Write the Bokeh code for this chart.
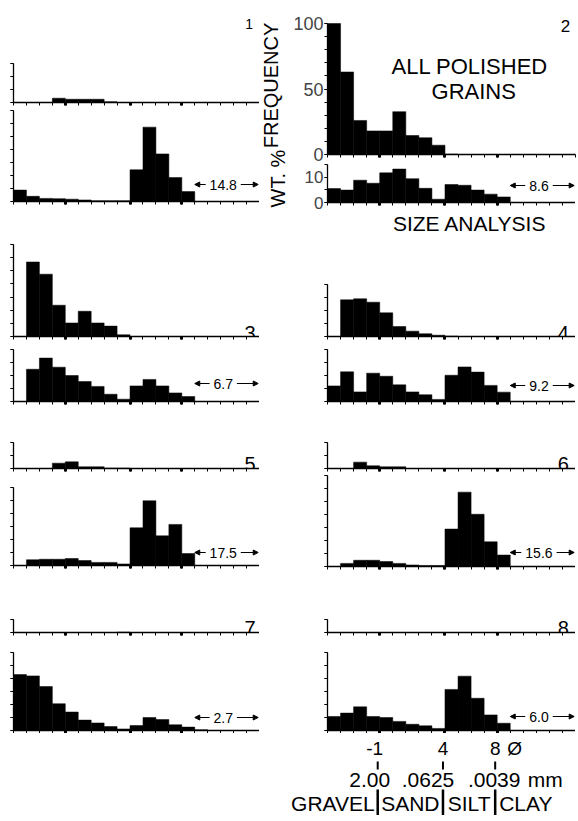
import math
from bokeh.plotting import figure
from bokeh.layouts import column, row
from bokeh.models import (Range1d, FixedTicker, Label, Arrow, NormalHead,
                          ColumnDataSource, CustomLabelingPolicy, AllLabels)
from bokeh.embed import file_html
from bokeh.resources import INLINE

# ---------------- data ----------------
bins = list(range(-5, 10))            # left edges of the 1-phi size classes
phi_major = [-1, 4, 8]                # class boundaries (phi)
mm_labels = ["2.00", ".0625", ".0039"]
classes = ["GRAVEL", "SAND", "SILT", "CLAY"]

panel_ids = ["1", "2", "3", "4", "5", "6", "7", "8"]

polished_1 = [0, 0, 0, 3.3, 2.5, 2.5, 2.5, 0.6, 0, 0, 0, 0, 0, 0, 0]
size_1 = [4.4, 2.0, 1.2, 1.1, 0.9, 0.6, 0.3, 0.3, 0.3, 12.2, 28.6, 18.3, 9.2, 3.8, 0]

polished_2 = [100, 63, 26, 18, 18, 32.7, 14.5, 12.8, 7.1, 0.3, 0, 0, 0, 0, 0]
size_2 = [5.5, 4.9, 8.8, 7.6, 11.7, 13.2, 9.4, 5.6, 1.3, 7.1, 6.8, 4.9, 3.3, 2.2, 0]

polished_3 = [0, 56.7, 47.4, 23.8, 10.3, 19.2, 10.3, 7.9, 1.3, 0, 0, 0, 0, 0, 0]
size_3 = [0, 12.4, 16.7, 13.2, 10.0, 7.7, 5.8, 2.8, 0.9, 6.0, 8.5, 6.0, 3.3, 1.9, 0]

polished_4 = [0, 28.2, 29.0, 26.4, 18.2, 7.7, 4.1, 2.1, 1.0, 0.3, 0, 0, 0, 0, 0]
size_4 = [6.0, 11.4, 3.7, 10.9, 9.7, 6.4, 3.7, 2.6, 0.8, 10.1, 13.3, 11.3, 6.2, 3.6, 0]

polished_5 = [0, 0, 0, 4.1, 5.1, 1.3, 1.3, 0.3, 0.3, 0, 0, 0, 0, 0, 0]
size_5 = [0, 2.2, 2.4, 2.4, 2.7, 1.9, 1.2, 1.2, 0.6, 14.5, 24.9, 11.4, 15.8, 4.6, 0]

polished_6 = [0, 0, 4.9, 2.1, 1.3, 1.3, 0, 0, 0, 0, 0, 0, 0, 0, 0]
size_6 = [0, 1.2, 2.4, 2.4, 1.9, 1.2, 0.6, 0.4, 0.4, 14.4, 28.6, 20.1, 9.5, 4.4, 0]

polished_7 = [0, 0, 0, 0, 0, 0, 0, 0, 0.3, 0, 0, 0, 0, 0, 0]
size_7 = [21.5, 21.0, 16.9, 10.3, 7.1, 4.0, 2.9, 1.5, 0.6, 1.9, 5.0, 4.2, 2.2, 1.3, 0.3]

polished_8 = [0, 0, 0, 0, 0, 0, 0, 0, 0, 0, 0, 0, 0, 0, 0]
size_8 = [5.4, 6.7, 9.1, 5.4, 5.0, 3.5, 2.4, 1.8, 0.8, 15.8, 20.9, 12.4, 6.0, 2.8, 0]

notes = [14.8, 8.6, 6.7, 9.2, 17.5, 15.6, 2.7, 6.0]
upper_max = [30, 100, 70, 40, 20, 20, 10, 10]
lower_max = [35, 15, 20, 20, 30, 35, 30, 30]

polished = [polished_1, polished_2, polished_3, polished_4,
            polished_5, polished_6, polished_7, polished_8]
sizes = [size_1, size_2, size_3, size_4, size_5, size_6, size_7, size_8]

# ---------------- styling / layout constants ----------------
FONT = "Liberation Sans"
XR = (-5, 14)
LEFT_L, LEFT_FW, MID_W, RIGHT_L, RIGHT_FW = 13, 246, 31, 35, 248

# page-pixel geometry: (top border, frame top, frame bottom (=0 line), axis top, bottom border)
geo_up = {1: (8, 8, 102, 63, 6), 3: (2, 244, 336, 244, 11),
          5: (2, 442, 468, 442, 17), 7: (0, 609, 632, 619, 18),
          2: (8, 8, 154, 23, 10), 4: (0, 211, 336, 284, 11),
          6: (2, 442, 468, 442, 5), 8: (0, 609, 632, 619, 18)}
# (top border, frame top, frame bottom, bottom border)
geo_lo = {1: (2, 110, 201, 41), 3: (2, 349, 401, 39),
          5: (2, 487, 565, 44), 7: (2, 652, 730, 2),
          2: (0, 164, 202, 9), 4: (2, 349, 401, 39),
          6: (2, 475, 566, 43), 8: (2, 652, 730, 2)}
note_px = [17, 17, 18, 16, 13, 14, 13, 14]


def no_labels():
    return CustomLabelingPolicy(code="for (const i of indices) { if (i < 0) yield i }")


def style_axis(ax, major, minor, labels=False):
    ax.ticker = FixedTicker(ticks=major, minor_ticks=minor)
    ax.axis_line_color = "black"
    ax.axis_line_width = 1.3
    ax.major_tick_in = 0
    ax.minor_tick_in = 0
    ax.major_tick_line_color = "black"
    ax.minor_tick_line_color = "black"
    if labels:
        ax.major_label_policy = AllLabels()
    else:
        ax.major_label_policy = no_labels()
        ax.major_label_text_font_size = "0px"
        ax.major_label_standoff = 0


def hist_fig(vals, ymax, step, fw, top, bottom, axis_top, L, R, T, B):
    fh = bottom - top
    scale = (bottom - axis_top) / ymax
    p = figure(frame_width=fw, frame_height=fh,
               x_range=Range1d(*XR), y_range=Range1d(0, fh / scale),
               output_backend="svg", toolbar_location=None,
               min_border_left=L, min_border_right=R,
               min_border_top=T, min_border_bottom=B)
    p.outline_line_color = None
    p.xgrid.visible = False
    p.ygrid.visible = False
    src = ColumnDataSource(dict(left=bins, right=[b + 1 for b in bins], top=vals))
    p.quad(left="left", right="right", bottom=0, top="top", source=src,
           fill_color="black", line_color="black", line_width=0.5)
    xa = p.xaxis[0]
    style_axis(xa, phi_major, list(range(XR[0], XR[1] + 1)))
    xa.major_tick_out = 3
    xa.major_tick_line_width = 3
    xa.minor_tick_out = 3
    xa.minor_tick_line_width = 1
    ya = p.yaxis[0]
    style_axis(ya, list(range(0, ymax + 1, step)), list(range(0, ymax + 1, step)))
    ya.bounds = (0, ymax)
    ya.major_tick_out = 3
    ya.minor_tick_out = 3
    ya.major_tick_line_width = 1
    return p, scale


def add_note(p, scale, k, x_center, xr_end):
    txt = f"{notes[k]}"
    y = note_px[k] / scale
    p.add_layout(Label(x=x_center, y=y, text=txt, text_align="center",
                       text_baseline="middle", text_font=FONT,
                       text_font_size="14px", text_color="black"))
    half = (len(txt) * 7.8 + 4) / 2 / 13.0
    for x0, x1 in ((x_center - half, 9.0), (x_center + half, xr_end)):
        p.add_layout(Arrow(end=NormalHead(size=5, fill_color="black", line_color="black"),
                           x_start=x0, y_start=y, x_end=x1, y_end=y,
                           line_width=1, line_color="black"))


left_figs, right_figs = [], []
for k in range(8):
    n = k + 1
    is_left = (n % 2 == 1)
    fw = LEFT_FW if is_left else RIGHT_FW
    L, R = (LEFT_L, 0) if is_left else (RIGHT_L, 2)

    tu, ut, ub, uax, bu = geo_up[n]
    tl, lt, lb, bl = geo_lo[n]
    pu, su = hist_fig(polished[k], upper_max[k], 10, fw, ut, ub, uax, L, R, tu, bu)
    pl, sl = hist_fig(sizes[k], lower_max[k], 5, fw, lt, lb, lt, L, R, tl, bl)

    # panel number
    if n == 1:
        num_px, num_size, num_x = 79, "14px", 13.5
    elif n == 2:
        num_px, num_size, num_x = 129, "17px", 13.6
    else:
        num_px = 4 if n in (3, 4) else 5
        num_size = "20px"
        num_x = 13.7 if is_left else 13.5
    pu.add_layout(Label(x=num_x, y=num_px / su, text=panel_ids[k],
                        text_align="right", text_baseline="alphabetic",
                        text_font=FONT, text_font_size=num_size, text_color="black"))

    add_note(pl, sl, k, 11.2, 13.9)

    if n == 2:
        ya = pu.yaxis[0]
        style_axis(ya, [0, 50, 100], list(range(0, 101, 10)), labels=True)
        ya.major_label_text_font = FONT
        ya.major_label_text_font_size = "18px"
        ya.major_label_standoff = 1
        yb = pl.yaxis[0]
        style_axis(yb, [0, 10], [0, 5, 10, 15], labels=True)
        yb.major_label_text_font = FONT
        yb.major_label_text_font_size = "17px"
        yb.major_label_standoff = 1
        for txt, xx, ypx in (("ALL POLISHED", 5.9, 88), ("GRAINS", 6.2, 63)):
            pu.add_layout(Label(x=xx, y=ypx / su, text=txt, text_align="center",
                                text_baseline="middle", text_font=FONT,
                                text_font_size="22px", text_color="black"))
    if n == 4:
        pu.add_layout(Label(x=5.9, y=(336 - 223) / su, text="SIZE ANALYSIS",
                            text_align="center", text_baseline="middle",
                            text_font=FONT, text_font_size="21px",
                            text_color="black"))

    (left_figs if is_left else right_figs).extend([pu, pl])

# ---------------- rotated ordinate title between the columns ----------------
MID_H = 215
m = figure(frame_width=MID_W, frame_height=MID_H, x_range=Range1d(0, MID_W),
           y_range=Range1d(0, MID_H), output_backend="svg", toolbar_location=None,
           x_axis_type=None, y_axis_type=None, min_border_left=0,
           min_border_right=0, min_border_top=0, min_border_bottom=0)
m.outline_line_color = None
m.xgrid.visible = False
m.ygrid.visible = False
for txt, xx, yy in (("FREQUENCY", 11, MID_H - 85), ("WT. %", 18, MID_H - 178)):
    m.add_layout(Label(x=xx, y=yy, text=txt, angle=math.pi / 2, text_align="center",
                       text_baseline="middle", text_font=FONT,
                       text_font_size="20px", text_color="black"))

# ---------------- phi / mm / class scale under panel 8 ----------------
PX_PHI = RIGHT_FW / 19.0
SCALE_X0 = LEFT_L + LEFT_FW + MID_W            # page x where the scale frame starts
ext_left = RIGHT_L / PX_PHI
ext_right = 2 / PX_PHI
SH = 82
s = figure(frame_width=RIGHT_L + RIGHT_FW + 2, frame_height=SH,
           x_range=Range1d(XR[0] - ext_left, XR[1] + ext_right),
           y_range=Range1d(0, SH), output_backend="svg", toolbar_location=None,
           x_axis_type=None, y_axis_type=None,
           min_border_left=SCALE_X0, min_border_right=0, min_border_top=0,
           min_border_bottom=0)
s.outline_line_color = None
s.xgrid.visible = False
s.ygrid.visible = False


def sy(px_from_top):
    return SH - px_from_top


for t in phi_major:
    s.add_layout(Label(x=t, y=sy(15), text=str(t), text_align="center",
                       text_baseline="middle", text_font=FONT,
                       text_font_size="19px", text_color="black",
                       x_offset=-3 if t < 0 else 0))
s.add_layout(Label(x=9.5, y=sy(15), text="Ø", text_align="center",
                   text_baseline="middle", text_font=FONT,
                   text_font_size="19px", text_color="black"))
s.segment(x0=phi_major, y0=[sy(28)] * 3, x1=phi_major, y1=[sy(36)] * 3,
          line_width=2, line_color="black")
mm_off = [-8, -15, -1]
for t, lab, off in zip(phi_major, mm_labels, mm_off):
    s.add_layout(Label(x=t, y=sy(46), text=lab, text_align="center",
                       text_baseline="middle", text_font=FONT,
                       text_font_size="21px", text_color="black", x_offset=off))
s.add_layout(Label(x=10.5, y=sy(46), text="mm", text_align="left",
                   text_baseline="middle", text_font=FONT,
                   text_font_size="21px", text_color="black"))
s.segment(x0=phi_major, y0=[sy(56)] * 3, x1=phi_major, y1=[sy(82)] * 3,
          line_width=2.5, line_color="black")
class_x = [phi_major[0], (phi_major[0] + phi_major[1]) / 2,
           (phi_major[1] + phi_major[2]) / 2, phi_major[2]]
class_align = ["right", "center", "center", "left"]
class_off = [-3, 0, 0, 4]
for lab, xx, al, off in zip(classes, class_x, class_align, class_off):
    s.add_layout(Label(x=xx, y=sy(70), text=lab, text_align=al,
                       text_baseline="middle", text_font=FONT,
                       text_font_size="21px", text_color="black", x_offset=off))

layout = column(row(column(*left_figs), column(m), column(*right_figs)), s)
open("out.html", "w").write(file_html(layout, INLINE))
